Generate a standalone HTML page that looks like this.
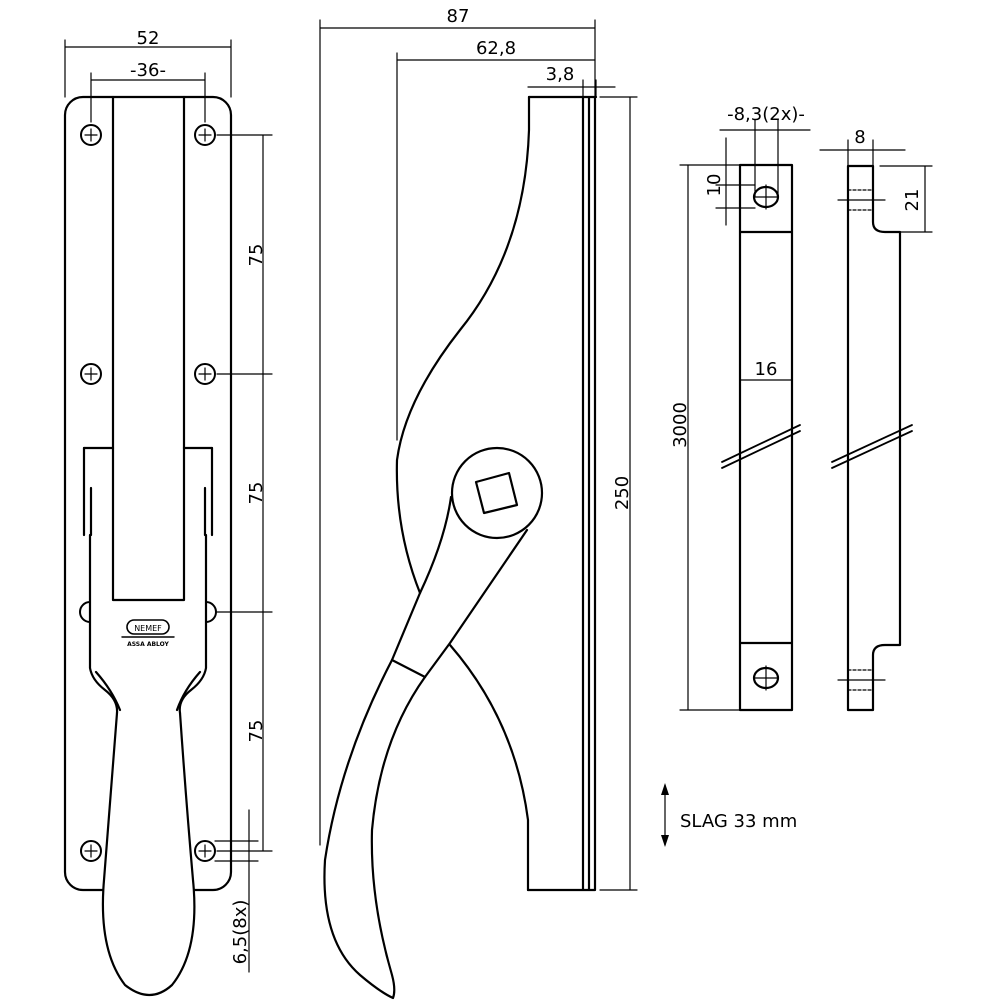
<!DOCTYPE html>
<html><head><meta charset="utf-8"><style>
html,body{margin:0;padding:0;background:#fff}
svg{display:block}
text{font-family:"DejaVu Sans","Liberation Sans",sans-serif;fill:#000}
</style></head><body>
<svg width="1000" height="1000" viewBox="0 0 1000 1000" xmlns="http://www.w3.org/2000/svg">
<g fill="none" stroke="#000" stroke-width="2.2" stroke-linecap="round" stroke-linejoin="round">
<!-- LEFT VIEW plate -->
<rect x="65" y="97" width="166" height="793" rx="18"/>
<path d="M113 97 V448 M184 97 V448"/>
<path d="M113 448 V600 H184 V448"/>
<!-- housing -->
<path d="M84 448 H113 M184 448 H212"/>
<path d="M84 448 V535 M212 448 V535"/>
<path d="M91 488 V535 M205 488 V535"/>
<path d="M90 535 V668 Q92 680 105 690 Q118 700 117 713 M206 535 V668 Q204 680 191 690 Q178 700 180 713"/>
<path d="M96 672 Q112 690 120 710 M200 672 Q184 690 177 710"/>
<!-- handle -->
<path fill="#fff" d="M117 713 Q110 800 104 880 Q98 950 125 985 Q150 1005 172 985 Q200 950 193 880 Q186 800 180 713"/>
<!-- holes -->
<g stroke-width="2">
<circle cx="91" cy="135" r="10"/><circle cx="205" cy="135" r="10"/>
<circle cx="91" cy="374" r="10"/><circle cx="205" cy="374" r="10"/>
<path d="M90 602 A10 10 0 0 0 90 622 M206 602 A10 10 0 0 1 206 622"/>
<circle cx="91" cy="851" r="10"/><circle cx="205" cy="851" r="10"/>
</g>
<g stroke-width="1.2">
<path d="M91 129 V141 M85 135 H97 M205 129 V141 M199 135 H211 M91 368 V380 M85 374 H97 M205 368 V380 M199 374 H211 M91 845 V857 M85 851 H97 M205 845 V857 M199 851 H211"/>
<path d="M65 40 V97 M231 40 V97 M65 47 H231"/>
<path d="M91 73 V122 M205 73 V122 M91 80 H205"/>
<path d="M217 135 H272 M217 374 H272 M217 612 H272 M217 851 H272 M263 135 V851"/>
<path d="M215 841 H258 M215 861 H258 M249 810 V972"/>
</g>
<rect x="127" y="620" width="42" height="14" rx="7" stroke-width="1.6"/>
<path d="M122 637 H174" stroke-width="1.4"/>

<!-- MIDDLE VIEW -->
<g stroke-width="1.2">
<path d="M320 20 V845 M595 20 V97 M320 28 H595"/>
<path d="M397 53 V440 M397 60 H595"/>
<path d="M528 87 H615 M583 80 V97 M596 80 V97"/>
<path d="M600 97 H637 M600 890 H637 M630 97 V890"/>
</g>
<path d="M529 97 H596 M583 97 V890 M589 97 V890 M595 97 V890 M528 890 H595"/>
<path d="M529 97 V130 Q525 250 460 330 Q405 400 397 460 Q395 530 420 593"/>
<path d="M450 645 Q515 720 528 820 V890"/>
<circle cx="497" cy="493" r="45"/>
<path d="M476 482 L509 473 L517 505 L484 513 Z"/>
<path d="M451 497 Q445 540 420 593 L392 660 M527 530 L450 643 L425 677 M392 660 L425 677"/>
<path d="M392 660 Q340 760 325 860 Q320 940 360 975 Q380 992 393 998 Q396 990 392 975 Q370 900 372 830 Q380 740 425 677"/>

<!-- RIGHT: strike front -->
<path d="M740 165 H792 V710 H740 Z M740 232 H792 M740 643 H792"/>
<ellipse cx="766" cy="197" rx="12" ry="10"/><ellipse cx="766" cy="678" rx="12" ry="10"/>
<g stroke-width="1.2">
<path d="M766 185 V209 M754 197 H778 M766 666 V690 M754 678 H778"/>
<path d="M680 165 H740 M680 710 H740 M688 165 V710"/>
<path d="M755 120 V197 M778 120 V197 M720 130 H810"/>
<path d="M726 138 V225 M716 185 H755 M716 208 H755"/>
<path d="M740 380 H792"/>
</g>
<g stroke-width="1.8" fill="#fff">
<path d="M722 462 L800 425 M722 468 L800 431"/>
<path d="M832 462 L912 425 M832 468 L912 431"/>
</g>
<path d="M848 166 H873 V222 Q873 232 885 232 H900 V645 H885 Q873 645 873 655 V710 H848 Z"/>
<g stroke-width="1.2">
<path d="M848 190 H873 M848 210 H873 M848 670 H873 M848 690 H873" stroke-dasharray="3 2"/>
<path d="M838 200 H885 M838 680 H885"/>
<path d="M820 150 H905 M848 140 V166 M873 140 V166"/>
<path d="M880 166 H932 M900 232 H932 M925 166 V232"/>
<path d="M665 785 V845"/>
</g>
</g>
<g fill="#000">
<path d="M665 783 L661 795 L669 795 Z M665 847 L661 835 L669 835 Z"/>
</g>
<g font-size="18" text-anchor="middle">
<text x="148" y="44">52</text>
<text x="148" y="76">-36-</text>
<text transform="translate(262,255) rotate(-90)">75</text>
<text transform="translate(262,493) rotate(-90)">75</text>
<text transform="translate(262,731) rotate(-90)">75</text>
<text transform="translate(246,932) rotate(-90)">6,5(8x)</text>
<text x="458" y="22">87</text>
<text x="496" y="54">62,8</text>
<text x="560" y="80">3,8</text>
<text transform="translate(628,493) rotate(-90)">250</text>
<text x="766" y="120">-8,3(2x)-</text>
<text transform="translate(720,185) rotate(-90)">10</text>
<text x="766" y="375">16</text>
<text transform="translate(686,425) rotate(-90)">3000</text>
<text x="860" y="143">8</text>
<text transform="translate(918,200) rotate(-90)">21</text>
<text x="680" y="827" text-anchor="start">SLAG 33 mm</text>
</g>
<text x="148" y="631" font-size="8" text-anchor="middle">NEMEF</text>
<text x="148" y="646" font-size="6" text-anchor="middle" font-weight="bold">ASSA ABLOY</text>
</svg>
</body></html>
